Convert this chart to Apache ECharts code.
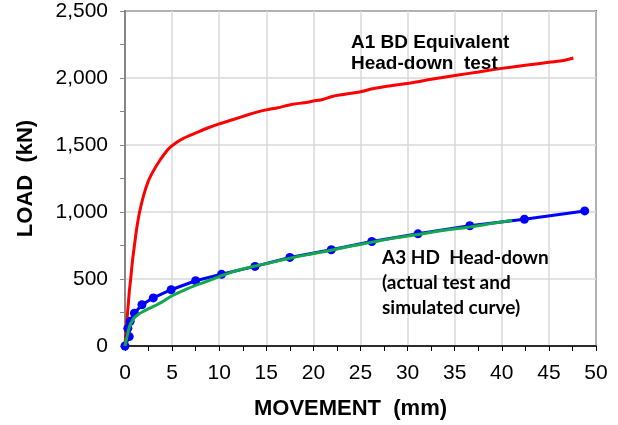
<!DOCTYPE html>
<html>
<head>
<meta charset="utf-8">
<script src="https://cdn.jsdelivr.net/npm/echarts@6/dist/echarts.min.js"></script>
<style>
  html, body { margin: 0; padding: 0; background: #fff; }
  #chart { width: 618px; height: 425px; }
</style>
</head>
<body>
<div id="chart"></div>
<script>
// Pile load test: load (kN) against head movement (mm)

// A1 BD equivalent head-down test: [movement mm, load kN]
const a1Test = [
  [0, 0], [0.1, 110], [0.25, 230], [0.45, 400], [0.6, 500], [0.8, 640],
  [1.0, 750], [1.25, 880], [1.55, 1000], [2.0, 1130], [2.5, 1235], [3.0, 1305],
  [3.6, 1375], [4.2, 1435], [4.75, 1480], [5.5, 1520], [6.2, 1550], [7.4, 1586],
  [8.7, 1625], [10.0, 1658], [11.5, 1690], [12.9, 1722], [14.0, 1745], [15.0, 1762],
  [16.2, 1778], [17.8, 1804], [19.0, 1815], [20.0, 1828], [21.0, 1840], [22.1, 1864],
  [23.5, 1880], [24.9, 1896], [26.4, 1921], [28.0, 1940], [30.3, 1963], [32.5, 1990],
  [35.2, 2020], [37.5, 2045], [39.8, 2070], [42.5, 2095], [45.2, 2119], [46.5, 2130],
  [47.6, 2149]
];

// A3 HD head-down, actual test readings
const a3Test = [
  [0, 0], [0.45, 70], [0.3, 132], [0.55, 185], [1.0, 245], [1.8, 308],
  [3.0, 359], [4.9, 420], [7.5, 487], [10.25, 535], [13.8, 594], [17.5, 661],
  [21.9, 718], [26.2, 780], [31.1, 837], [36.6, 897], [42.4, 946], [48.8, 1008]
];

// A3 HD head-down, simulated curve
const a3Simulated = [
  [0, 0], [0.15, 50], [0.3, 95], [0.5, 150], [0.75, 185], [1.0, 212],
  [1.5, 240], [2.0, 260], [2.7, 285], [3.4, 308], [4.2, 340], [5.0, 375],
  [6.4, 420], [7.5, 452], [8.8, 485], [10.0, 518], [11.2, 548], [12.5, 575],
  [15.0, 615], [17.5, 655], [20.0, 690], [22.0, 716], [24.0, 746], [26.2, 775],
  [28.5, 805], [31.1, 832], [33.5, 860], [36.6, 888], [39.0, 915], [41.1, 938]
];

// Axis ranges
const movementAxis = { min: 0, max: 50, step: 5 };
const loadAxis = { min: 0, max: 2500, step: 500 };

const chart = echarts.init(document.getElementById('chart'), null, { renderer: 'canvas' });

const arial = '"Liberation Sans", Arial, sans-serif';
const gridLine = { show: true, lineStyle: { color: '#d9d9d9', width: 1.5 } };

chart.setOption({
  animation: false,
  backgroundColor: '#ffffff',
  grid: {
    left: 125, right: 22, top: 11, bottom: 78,
    show: true, borderColor: '#000', borderWidth: 1.5, backgroundColor: 'transparent'
  },
  xAxis: {
    type: 'value',
    min: movementAxis.min, max: movementAxis.max, interval: movementAxis.step,
    name: 'MOVEMENT  (mm)',
    nameLocation: 'middle',
    nameGap: 52,
    nameTextStyle: { fontFamily: arial, fontWeight: 'bold', fontSize: 22, color: '#000', padding: [0, 20, 0, 0] },
    axisLine: { show: true, onZero: false, lineStyle: { color: '#000', width: 1.5 } },
    axisTick: { show: true, inside: false, length: 5, lineStyle: { color: '#000', width: 1 } },
    minorTick: { show: true, splitNumber: 2, length: 5, lineStyle: { color: '#000', width: 1 } },
    splitLine: gridLine,
    axisLabel: { fontFamily: arial, fontSize: 21, color: '#000', margin: 17 }
  },
  yAxis: {
    type: 'value',
    min: loadAxis.min, max: loadAxis.max, interval: loadAxis.step,
    name: 'LOAD  (kN)',
    nameLocation: 'middle',
    nameGap: 88,
    nameTextStyle: { fontFamily: arial, fontWeight: 'bold', fontSize: 22, color: '#000' },
    axisLine: { show: true, onZero: false, lineStyle: { color: '#868686', width: 2 } },
    axisTick: { show: true, inside: false, length: 5, lineStyle: { color: '#868686', width: 1 } },
    minorTick: { show: true, splitNumber: 2, length: 5, lineStyle: { color: '#868686', width: 1 } },
    splitLine: gridLine,
    axisLabel: {
      fontFamily: arial, fontSize: 21, color: '#000', margin: 17,
      formatter: v => v.toLocaleString('en-US')
    }
  },
  series: [
    {
      name: 'A1 BD Equivalent Head-down test',
      type: 'line', data: a1Test, showSymbol: false, smooth: 0.2,
      lineStyle: { color: '#ff0000', width: 3 }, z: 3
    },
    {
      name: 'A3 HD Head-down actual test',
      type: 'line', data: a3Test, symbol: 'circle', symbolSize: 9, showSymbol: true,
      itemStyle: { color: '#0000ff' },
      lineStyle: { color: '#0000ff', width: 3 }, z: 4
    },
    {
      name: 'A3 HD Head-down simulated curve',
      type: 'line', data: a3Simulated, showSymbol: false, smooth: true,
      lineStyle: { color: '#12a84e', width: 3 }, z: 5
    }
  ],
  graphic: [
    {
      type: 'text', left: 351, top: 32, z: 10,
      style: {
        text: 'A1 BD Equivalent\nHead-down  test',
        font: 'bold 19px "Liberation Sans", Arial, sans-serif',
        lineHeight: 21, fill: '#000'
      }
    },
    {
      type: 'text', left: 382, top: 245, z: 10,
      style: {
        text: 'A3 HD  Head-down\n(actual test and\nsimulated curve)',
        font: 'bold 19px Lato, "Open Sans", sans-serif',
        lineHeight: 25, fill: '#000'
      }
    }
  ]
});
</script>
</body>
</html>
